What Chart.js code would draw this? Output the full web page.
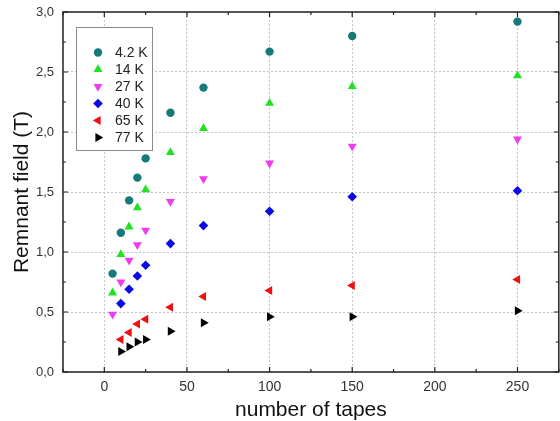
<!DOCTYPE html>
<html>
<head>
<meta charset="utf-8">
<title>Remnant field vs number of tapes</title>
<script src="https://cdn.jsdelivr.net/npm/chart.js@4/dist/chart.umd.min.js"></script>
<style>
  html, body { margin: 0; padding: 0; background: #fff; overflow: hidden; }
  /* canvas is a few px wider than the window: Chart.js keeps a 5px right margin we don't want */
  #wrap { width: 560px; height: 421px; overflow: hidden; }
  #chart { display: block; }
</style>
</head>
<body>
<div id="wrap"><canvas id="chart" width="564" height="421"></canvas></div>
<script>
// ---- data ----
const LABELS = ["4.2 K", "14 K", "27 K", "40 K", "65 K", "77 K"];

const X_42K = [5, 10, 15, 20, 25, 40, 60, 100, 150, 250];
const Y_42K = [0.82, 1.16, 1.43, 1.62, 1.78, 2.16, 2.37, 2.67, 2.80, 2.92];

const X_14K = [5, 10, 15, 20, 25, 40, 60, 100, 150, 250];
const Y_14K = [0.66, 0.98, 1.21, 1.37, 1.52, 1.83, 2.03, 2.24, 2.38, 2.47];

const X_27K = [5, 10, 15, 20, 25, 40, 60, 100, 150, 250];
const Y_27K = [0.48, 0.75, 0.93, 1.06, 1.18, 1.42, 1.61, 1.74, 1.88, 1.94];

const X_40K = [10, 15, 20, 25, 40, 60, 100, 150, 250];
const Y_40K = [0.57, 0.69, 0.80, 0.89, 1.07, 1.22, 1.34, 1.46, 1.51];

const X_65K = [10, 15, 20, 25, 40, 60, 100, 150, 250];
const Y_65K = [0.27, 0.33, 0.40, 0.44, 0.54, 0.63, 0.68, 0.72, 0.77];

const X_77K = [10, 15, 20, 25, 40, 60, 100, 150, 250];
const Y_77K = [0.17, 0.21, 0.25, 0.27, 0.34, 0.41, 0.46, 0.46, 0.51];

const X_TICKS = [0, 50, 100, 150, 200, 250];
const X_MINOR = [-25, 25, 75, 125, 175, 225, 275];
const Y_TICKS = [0, 0.5, 1.0, 1.5, 2.0, 2.5, 3.0];
const Y_MINOR = [0.25, 0.75, 1.25, 1.75, 2.25, 2.75];

(() => {
  const FONT = "'Liberation Sans', Arial, sans-serif";

  // marker look per series: colour, point style, rotation
  const STYLES = [
    { color: "#167a7a", style: "circle",   rot: 0,   r: 4.2 },
    { color: "#22e022", style: "triangle", rot: 0,   r: 5.2 },
    { color: "#f03cf0", style: "triangle", rot: 180, r: 5.2 },
    { color: "#0a0ae6", style: "rectRot",  rot: 0,   r: 4.8 },
    { color: "#ee1111", style: "triangle", rot: 270, r: 5.2 },
    { color: "#000000", style: "triangle", rot: 90,  r: 5.2 },
  ];

  const pairs = (xs, ys) => xs.map((x, i) => ({ x, y: ys[i] }));
  const SERIES = [
    pairs(X_42K, Y_42K), pairs(X_14K, Y_14K), pairs(X_27K, Y_27K),
    pairs(X_40K, Y_40K), pairs(X_65K, Y_65K), pairs(X_77K, Y_77K),
  ];

  const datasets = SERIES.map((data, i) => ({
    label: LABELS[i],
    data,
    pointStyle: STYLES[i].style,
    rotation: STYLES[i].rot,
    pointRadius: STYLES[i].r,
    backgroundColor: STYLES[i].color,
    borderColor: STYLES[i].color,
    borderWidth: 0,
  }));

  // box around plot + inward major/minor ticks
  const frame = {
    id: "frame",
    afterDatasetsDraw(chart) {
      const { ctx, chartArea: a, scales: { x, y } } = chart;
      ctx.save();
      ctx.strokeStyle = "#222";
      ctx.lineWidth = 1.5;
      ctx.strokeRect(a.left, a.top, a.right - a.left, a.bottom - a.top);
      ctx.lineWidth = 1.2;
      ctx.beginPath();
      const tx = (v, len) => {
        const px = x.getPixelForValue(v);
        ctx.moveTo(px, a.bottom); ctx.lineTo(px, a.bottom - len);
        ctx.moveTo(px, a.top); ctx.lineTo(px, a.top + len);
      };
      const ty = (v, len) => {
        const py = y.getPixelForValue(v);
        ctx.moveTo(a.left, py); ctx.lineTo(a.left + len, py);
        ctx.moveTo(a.right, py); ctx.lineTo(a.right - len, py);
      };
      X_TICKS.forEach(v => tx(v, 5));
      X_MINOR.forEach(v => tx(v, 3));
      Y_TICKS.forEach(v => ty(v, 5));
      Y_MINOR.forEach(v => ty(v, 3));
      ctx.stroke();
      ctx.restore();
    },
  };

  // legend box drawn inside the plot, top-left
  const insideLegend = {
    id: "insideLegend",
    afterDraw(chart) {
      const { ctx } = chart;
      const bx = 76.5, by = 27.5, bw = 76, bh = 123;
      ctx.save();
      ctx.fillStyle = "#fff";
      ctx.fillRect(bx, by, bw, bh);
      ctx.strokeStyle = "#8a8a8a";
      ctx.lineWidth = 1;
      ctx.strokeRect(bx, by, bw, bh);
      ctx.font = `14px ${FONT}`;
      ctx.textBaseline = "middle";
      ctx.textAlign = "left";
      chart.data.datasets.forEach((ds, i) => {
        const rowY = 52.5 + i * 17;
        ctx.fillStyle = ds.backgroundColor;
        ctx.strokeStyle = ds.borderColor;
        Chart.helpers.drawPoint(ctx, {
          pointStyle: ds.pointStyle, rotation: ds.rotation,
          radius: ds.pointRadius, borderWidth: 0,
        }, 98, rowY);
        ctx.fillStyle = "#222";
        ctx.fillText(ds.label, 115, rowY + 1);
      });
      ctx.restore();
    },
  };

  new Chart(document.getElementById("chart"), {
    type: "scatter",
    data: { datasets },
    plugins: [frame, insideLegend],
    options: {
      responsive: false,
      animation: false,
      devicePixelRatio: 1,
      layout: { padding: { left: 0, top: 12, right: 1, bottom: 0 } },
      plugins: { legend: { display: false }, tooltip: { enabled: false } },
      scales: {
        x: {
          type: "linear",
          min: -25,
          max: 275,
          afterBuildTicks: (s) => { s.ticks = X_TICKS.map(value => ({ value })); },
          afterFit: (s) => { s.height = 49; s.paddingLeft = 0; s.paddingRight = 0; },
          grid: { color: "#c4c4c4", lineWidth: 1, drawTicks: false },
          border: { display: false, dash: [2, 2] },
          ticks: { color: "#333", padding: 7, font: { family: FONT, size: 14 } },
          title: {
            display: true,
            text: "number of tapes",
            color: "#111",
            padding: { top: 0, bottom: 0 },
            font: { family: FONT, size: 21, lineHeight: 1 },
          },
        },
        y: {
          min: 0,
          max: 3,
          afterBuildTicks: (s) => { s.ticks = Y_TICKS.map(value => ({ value })); },
          afterFit: (s) => { s.width = 63; s.paddingTop = 0; s.paddingBottom = 0; },
          grid: { color: "#c4c4c4", lineWidth: 1, drawTicks: false },
          border: { display: false, dash: [2, 2] },
          ticks: {
            color: "#333",
            padding: 9,
            font: { family: FONT, size: 13 },
            callback: (v) => v.toFixed(1).replace(".", ","),
          },
          title: {
            display: true,
            text: "Remnant field (T)",
            color: "#111",
            padding: { top: 12, bottom: 0 },
            font: { family: FONT, size: 21, lineHeight: 1 },
          },
        },
      },
    },
  });
})();
</script>
</body>
</html>
